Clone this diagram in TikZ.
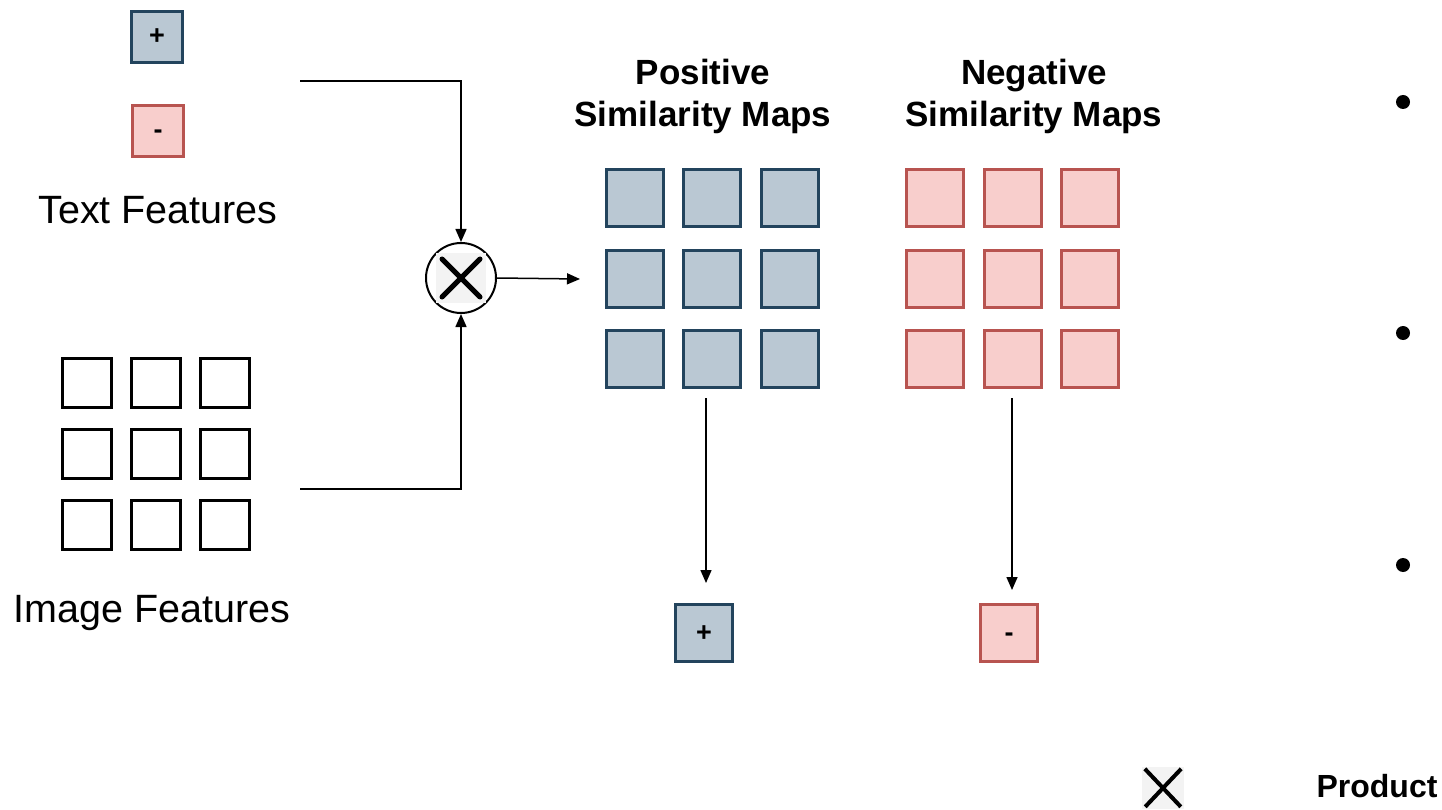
\documentclass[tikz,border=0pt]{standalone}
\usepackage{fontspec}
\setmainfont{Liberation Sans}
\usetikzlibrary{arrows.meta}
\definecolor{posfill}{HTML}{BAC8D3}
\definecolor{posdraw}{HTML}{23445D}
\definecolor{negfill}{HTML}{F8CECC}
\definecolor{negdraw}{HTML}{B85450}
\definecolor{xback}{HTML}{F3F3F3}

\tikzset{
    cell/.style={line width=3pt, minimum size=57pt, inner sep=0pt},
    poscell/.style={cell, fill=posfill, draw=posdraw},
    negcell/.style={cell, fill=negfill, draw=negdraw},
    featcell/.style={draw=black, line width=3pt, fill=white, minimum size=49pt, inner sep=0pt},
    flow/.style={line width=1.5pt, -{Triangle[length=13pt,width=11pt]}},
    label/.style={font=\fontsize{39.5}{46}\selectfont},
    title/.style={font=\fontsize{35}{42}\selectfont\bfseries, align=center},
    sign/.style={font=\fontsize{27}{32}\selectfont\bfseries, text height=16pt, text depth=0pt},
    dot/.style={circle, fill=black, minimum size=14pt, inner sep=0pt},
}

\begin{document}
\begin{tikzpicture}[x=1pt, y=-1pt]
    \useasboundingbox (0,0) rectangle (1442,810);
    % Text features and image features.
        \node[cell, fill=posfill, draw=posdraw, minimum size=51pt, sign] (tpos) at (157,37) {+};
        \node[cell, fill=negfill, draw=negdraw, minimum size=51pt, sign] (tneg) at (158,131) {-};
        \node[label] (tlab) at (158,210) {Text Features};
        \foreach \i/\x in {1/87,2/156,3/225}
            \foreach \j/\y in {1/383,2/454,3/525}
                \node[featcell] (f\i\j) at (\x,\y) {};
        \node[label] (ilab) at (152,613) {Image Features};
    % The product node.
        \node[circle, draw, line width=2pt, minimum size=70pt, inner sep=0pt] (mult) at (461,278) {};
        \fill[xback] (436,253) rectangle (486,303);
        \draw[line width=5pt, line cap=round] (442,259) -- (480,297) (480,259) -- (442,297);
        \coordinate (tin) at (300,81);
        \coordinate (iin) at (300,489);
        \coordinate (mout) at (580,279);
        \draw[flow] (tin) -| (mult);
        \draw[flow] (iin) -| (mult);
        \draw[flow] (mult.east) -- (mout);
    % Similarity maps.
        \node[title] (ptitle) at (703,96) {Positive\\Similarity Maps};
        \node[title] (ntitle) at (1034,96) {Negative\\Similarity Maps};
        \foreach \i/\x in {1/635,2/712,3/790}
            \foreach \j/\y in {1/198,2/279,3/359}
                \node[poscell] (p\i\j) at (\x,\y) {};
        \foreach \i/\x in {1/935,2/1013,3/1090}
            \foreach \j/\y in {1/198,2/279,3/359}
                \node[negcell] (n\i\j) at (\x,\y) {};
    % Pooled results below the maps.
        \node[poscell, sign] (pres) at (704,633) {+};
        \node[negcell, sign] (nres) at (1009,633) {-};
        \coordinate (pout) at (706,398);
        \coordinate (nout) at (1012,398);
        \draw[flow, shorten >=20pt] (pout) -- (pout |- pres.north);
        \draw[flow, shorten >=13pt] (nout) -- (nout |- nres.north);
    % Bullets and the legend.
        \node[dot] (b1) at (1403,102) {};
        \node[dot] (b2) at (1403,333) {};
        \node[dot] (b3) at (1403,565) {};
        \node[fill=xback, minimum size=42pt, inner sep=0pt] (legx) at (1163,788) {};
        \draw[line width=4pt] (legx.north west) ++(3,2) -- ++(36,38) (legx.north east) ++(-3,2) -- ++(-36,38);
        \node[font=\fontsize{32}{38}\selectfont\bfseries] (prod) at (1377,786) {Product};
\end{tikzpicture}
\end{document}
